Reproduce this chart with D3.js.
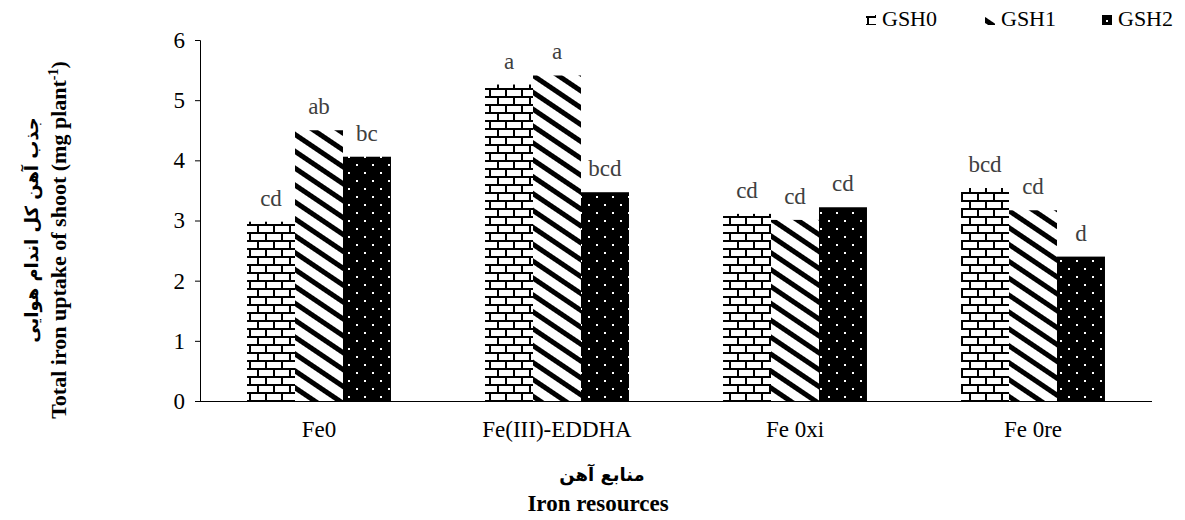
<!DOCTYPE html>
<html>
<head>
<meta charset="utf-8">
<script src="https://cdn.jsdelivr.net/npm/d3@7/dist/d3.min.js"></script>
<style>
  body { margin: 0; background: #fff; }
  svg text { font-family: "Liberation Serif", "Times New Roman", serif; }
</style>
</head>
<body>
<svg id="chart" width="1185" height="520"></svg>
<script>
// Iron sources and glutathione treatments
const categories = ["Fe0", "Fe(III)-EDDHA", "Fe 0xi", "Fe 0re"];
const seriesNames = ["GSH0", "GSH1", "GSH2"];
const gsh0 = [2.98, 5.26, 3.11, 3.54];
const gsh1 = [4.50, 5.41, 3.01, 3.17];
const gsh2 = [4.06, 3.47, 3.22, 2.40];
const letters0 = ["cd", "a", "cd", "bcd"];
const letters1 = ["ab", "a", "cd", "cd"];
const letters2 = ["bc", "bcd", "cd", "d"];
const yTicks = [0, 1, 2, 3, 4, 5, 6];

const seriesValues = [gsh0, gsh1, gsh2];
const seriesLetters = [letters0, letters1, letters2];
const patternIds = ["pat-brick", "pat-diag", "pat-dots"];

const svg = d3.select("#chart");
const defs = svg.append("defs");

// brick pattern: white bricks, black mortar
const brick = defs.append("pattern").attr("id", "pat-brick")
  .attr("patternUnits", "userSpaceOnUse").attr("width", 16).attr("height", 16);
brick.append("rect").attr("width", 16).attr("height", 16).attr("fill", "#fff");
brick.append("rect").attr("x", 0).attr("y", 0).attr("width", 16).attr("height", 2).attr("fill", "#000");
brick.append("rect").attr("x", 0).attr("y", 8).attr("width", 16).attr("height", 2).attr("fill", "#000");
brick.append("rect").attr("x", 1).attr("y", 0).attr("width", 2).attr("height", 8).attr("fill", "#000");
brick.append("rect").attr("x", 9).attr("y", 8).attr("width", 2).attr("height", 8).attr("fill", "#000");

// wide downward diagonal stripes
const diag = defs.append("pattern").attr("id", "pat-diag")
  .attr("patternUnits", "userSpaceOnUse").attr("width", 14).attr("height", 14)
  .attr("patternTransform", "rotate(34)");
diag.append("rect").attr("width", 14).attr("height", 14).attr("fill", "#fff");
diag.append("rect").attr("width", 14).attr("height", 5).attr("fill", "#000");

// black with white dots
const dots = defs.append("pattern").attr("id", "pat-dots")
  .attr("patternUnits", "userSpaceOnUse").attr("width", 16).attr("height", 16);
dots.append("rect").attr("width", 16).attr("height", 16).attr("fill", "#000");
dots.append("rect").attr("x", 4).attr("y", 4).attr("width", 2).attr("height", 2).attr("fill", "#fff");
dots.append("rect").attr("x", 12).attr("y", 12).attr("width", 2).attr("height", 2).attr("fill", "#fff");

const x0 = d3.scaleBand().domain(categories).range([200, 1152]).padding(0);
const x1 = d3.scaleBand().domain(seriesNames).range([0, x0.bandwidth()])
  .paddingInner(0).paddingOuter(0.98);
const y = d3.scaleLinear().domain([0, 6]).range([401, 40]);

// y axis
const yAxis = svg.append("g").attr("transform", "translate(200,0)")
  .call(d3.axisLeft(y).tickValues(yTicks).tickSize(5).tickPadding(10).tickFormat(d3.format("d")));
yAxis.select(".domain").attr("stroke", "#000").attr("d", "M-5,40.5H0.5V401.5");
yAxis.selectAll(".tick line").attr("stroke", "#000");
yAxis.selectAll(".tick text").attr("font-size", 23).attr("fill", "#000")
  .attr("font-family", "Liberation Serif, serif");

// bars
seriesNames.forEach((s, si) => {
  svg.append("g").selectAll("rect").data(categories).join("rect")
    .attr("x", c => x0(c) + x1(s))
    .attr("y", (c, i) => y(seriesValues[si][i]))
    .attr("width", x1.bandwidth())
    .attr("height", (c, i) => y(0) - y(seriesValues[si][i]))
    .attr("fill", `url(#${patternIds[si]})`);
  svg.append("g").selectAll("text").data(categories).join("text")
    .attr("x", c => x0(c) + x1(s) + x1.bandwidth() / 2)
    .attr("y", (c, i) => y(seriesValues[si][i]) - 16)
    .attr("text-anchor", "middle")
    .attr("font-size", 23).attr("fill", "#404040")
    .text((c, i) => seriesLetters[si][i]);
});

// x axis
const xAxis = svg.append("g").attr("transform", "translate(0,401)")
  .call(d3.axisBottom(x0).tickSize(0).tickPadding(20));
xAxis.select(".domain").attr("stroke", "#000").attr("d", "M200,0.5H1152");
xAxis.selectAll(".tick text").attr("font-size", 23).attr("fill", "#000")
  .attr("font-family", "Liberation Serif, serif");

// axis titles
svg.append("text").attr("x", 602).attr("y", 481).attr("text-anchor", "middle")
  .attr("font-size", 18).attr("font-weight", "bold").attr("direction", "rtl")
  .style("font-family", "DejaVu Sans, sans-serif")
  .text("منابع آهن");
svg.append("text").attr("x", 598).attr("y", 511).attr("text-anchor", "middle")
  .attr("font-size", 23).attr("font-weight", "bold")
  .text("Iron resources");

svg.append("text").attr("transform", "translate(38,230) rotate(-90)")
  .attr("text-anchor", "middle").attr("font-size", 18).attr("font-weight", "bold")
  .attr("direction", "rtl").style("font-family", "DejaVu Sans, sans-serif")
  .text("جذب آهن کل اندام هوایی");
const yt2 = svg.append("text").attr("transform", "translate(66,240) rotate(-90)")
  .attr("text-anchor", "middle").attr("font-size", 22).attr("font-weight", "bold");
yt2.append("tspan").text("Total iron uptake of shoot (mg plant");
yt2.append("tspan").attr("font-size", 14).attr("dy", -8).text("-1");
yt2.append("tspan").attr("dy", 8).text(")");

// legend
const legendX = [866, 985, 1102];
seriesNames.forEach((s, si) => {
  const g = svg.append("g").attr("transform", `translate(${legendX[si]},0)`);
  g.append("rect").attr("x", 0).attr("y", 15).attr("width", 10).attr("height", 10)
    .attr("fill", `url(#${patternIds[si]})`);
  g.append("text").attr("x", 16).attr("y", 26).attr("font-size", 22).attr("fill", "#000").text(s);
});
</script>
</body>
</html>
